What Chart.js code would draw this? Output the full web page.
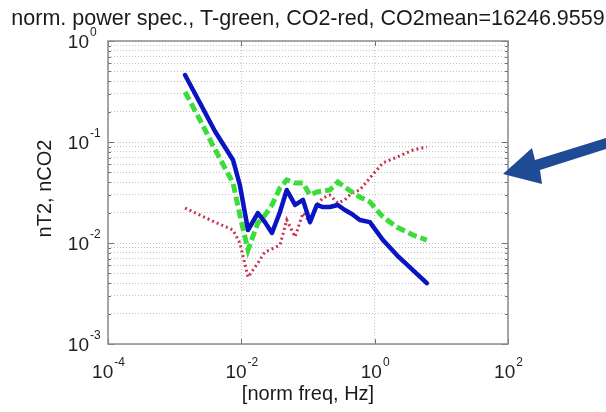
<!DOCTYPE html>
<html>
<head>
<meta charset="utf-8">
<script src="https://cdn.jsdelivr.net/npm/chart.js@4.4.1/dist/chart.umd.min.js"></script>
<style>
  html, body { margin: 0; padding: 0; background: #fff; }
  #wrap { width: 606px; height: 412px; }
</style>
</head>
<body>
<div id="wrap"><canvas id="spec" width="606" height="412"></canvas></div>
<script>
// normalised power spectra
const freq = [0.00143, 0.0024, 0.004, 0.0075, 0.0095, 0.0126, 0.0177, 0.0226, 0.0288, 0.038,
  0.048, 0.064, 0.084, 0.107, 0.136, 0.167, 0.213, 0.28, 0.357, 0.455,
  0.6, 0.847, 1.33, 2.15, 3.74, 6.06];

const blueVals = [0.46, 0.243, 0.1285, 0.0664, 0.0375, 0.01345, 0.0198, 0.0161, 0.01256, 0.0203,
  0.0335, 0.0238, 0.0267, 0.0161, 0.0238, 0.0227, 0.0227, 0.0238, 0.0212, 0.0194,
  0.0169, 0.0161, 0.0107, 0.0076, 0.0054, 0.0040];

const tempVals = [0.313, 0.165, 0.0852, 0.0393, 0.0189, 0.00853, 0.0158, 0.0189, 0.0238, 0.0351,
  0.0421, 0.0393, 0.0393, 0.0299, 0.032, 0.0327, 0.0335, 0.0402, 0.0358, 0.032,
  0.0285, 0.0255, 0.0181, 0.0144, 0.012, 0.0107];

const co2Vals = [0.0222, 0.0189, 0.0161, 0.01345, 0.0100, 0.0046, 0.00634, 0.00815, 0.00873, 0.00955,
  0.0169, 0.0115, 0.0198, 0.0161, 0.0238, 0.0279, 0.0298, 0.0249, 0.0267, 0.0313,
  0.0335, 0.044, 0.062, 0.071, 0.0833, 0.0892];

const titleText = 'norm. power spec., T-green, CO2-red, CO2mean=16246.9559';
const xLabel = '[norm freq, Hz]';
const yLabel = 'nT2, nCO2';

const xTickVals = [1e-4, 1e-2, 1, 1e2];
const xTickExp = ['-4', '-2', '0', '2'];
const yTickVals = [1e-3, 1e-2, 1e-1, 1];
const yTickExp = ['-3', '-2', '-1', '0'];

// minor grid rows 1..9 x 10^k
const yGridVals = [];
for (let k = -3; k < 0; k++) {
  for (let m = 1; m <= 9; m++) yGridVals.push(m * Math.pow(10, k));
}
yGridVals.push(1);

const FONT = "'Liberation Sans', Arial, Helvetica, sans-serif";

function pts(vals) {
  return freq.map((f, i) => ({ x: f, y: vals[i] }));
}

// draws 10^n the matlab way
function drawPow(ctx, exp, x, y, mode) {
  ctx.font = '19px ' + FONT;
  const wb = ctx.measureText('10').width;
  ctx.font = '12px ' + FONT;
  const we = ctx.measureText(exp).width;
  let start;
  if (mode === 'center') start = x - (wb + we) / 2;
  else start = x - wb;
  ctx.textAlign = 'left';
  ctx.textBaseline = 'alphabetic';
  ctx.font = '19px ' + FONT;
  ctx.fillText('10', start, y);
  ctx.font = '12px ' + FONT;
  ctx.fillText(exp, start + wb + 1, y - 12);
}

const decor = {
  id: 'decor',
  afterDraw(chart) {
    const ctx = chart.ctx;
    const a = chart.chartArea;
    const sx = chart.scales.x, sy = chart.scales.y;
    ctx.save();

    // tick marks
    ctx.strokeStyle = '#707070';
    ctx.lineWidth = 1;
    ctx.beginPath();
    xTickVals.forEach(v => {
      const px = Math.round(sx.getPixelForValue(v)) + 0.5;
      ctx.moveTo(px, a.bottom); ctx.lineTo(px, a.bottom - 5);
      ctx.moveTo(px, a.top); ctx.lineTo(px, a.top + 5);
    });
    yGridVals.forEach(v => {
      const py = Math.round(sy.getPixelForValue(v)) + 0.5;
      const len = yTickVals.includes(v) ? 6 : 3;
      ctx.moveTo(a.left, py); ctx.lineTo(a.left + len, py);
      ctx.moveTo(a.right, py); ctx.lineTo(a.right - len, py);
    });
    ctx.stroke();

    // axes box
    ctx.strokeStyle = '#8a8a8a';
    ctx.lineWidth = 1.5;
    ctx.strokeRect(a.left, a.top, a.right - a.left, a.bottom - a.top);

    // tick labels
    ctx.fillStyle = '#222';
    xTickVals.forEach((v, i) => {
      drawPow(ctx, xTickExp[i], sx.getPixelForValue(v), a.bottom + 34, 'center');
    });
    yTickVals.forEach((v, i) => {
      drawPow(ctx, yTickExp[i], 89, sy.getPixelForValue(v) + 7, 'right');
    });

    // title and axis labels
    ctx.fillStyle = '#1a1a1a';
    ctx.font = '21.5px ' + FONT;
    ctx.textAlign = 'center';
    ctx.textBaseline = 'alphabetic';
    ctx.fillText(titleText, (a.left + a.right) / 2, 25);

    ctx.font = '20px ' + FONT;
    ctx.fillText(xLabel, (a.left + a.right) / 2, 400);

    ctx.save();
    ctx.translate(45, (a.top + a.bottom) / 2 - 4);
    ctx.rotate(-Math.PI / 2);
    ctx.textBaseline = 'middle';
    ctx.fillText(yLabel, 0, 0);
    ctx.restore();

    // the blue pointer arrow on the right
    ctx.fillStyle = '#1f4a94';
    ctx.beginPath();
    ctx.moveTo(503, 174);
    ctx.lineTo(532, 148);
    ctx.lineTo(535, 160);
    ctx.lineTo(606, 138);
    ctx.lineTo(606, 149);
    ctx.lineTo(540, 170);
    ctx.lineTo(542, 184);
    ctx.closePath();
    ctx.fill();

    ctx.restore();
  }
};

const gridStyle = { color: '#c4c4c4', lineWidth: 1, drawTicks: false };

new Chart(document.getElementById('spec'), {
  type: 'line',
  data: {
    datasets: [
      {
        label: 'CO2',
        data: pts(co2Vals),
        borderColor: '#c8324b',
        borderWidth: 3,
        borderDash: [2, 3],
        pointRadius: 0,
        fill: false,
        tension: 0,
        order: 3
      },
      {
        label: 'T',
        data: pts(tempVals),
        borderColor: '#3cdc3c',
        borderWidth: 5,
        borderDash: [9, 4],
        pointRadius: 0,
        fill: false,
        tension: 0,
        order: 2
      },
      {
        label: 'blue',
        data: pts(blueVals),
        borderColor: '#0a14c0',
        borderWidth: 4.5,
        borderJoinStyle: 'round',
        borderCapStyle: 'round',
        pointRadius: 0,
        fill: false,
        tension: 0,
        order: 1
      }
    ]
  },
  options: {
    responsive: false,
    animation: false,
    devicePixelRatio: 1,
    layout: { padding: { left: 108, top: 41, right: 98, bottom: 68 } },
    plugins: {
      legend: { display: false },
      tooltip: { enabled: false }
    },
    scales: {
      x: {
        type: 'logarithmic',
        min: 1e-4,
        max: 1e2,
        afterBuildTicks: (scale) => { scale.ticks = xTickVals.map(v => ({ value: v })); },
        ticks: { display: false },
        grid: gridStyle,
        border: { display: false, dash: [1, 2] }
      },
      y: {
        type: 'logarithmic',
        min: 1e-3,
        max: 1,
        afterBuildTicks: (scale) => { scale.ticks = yGridVals.map(v => ({ value: v })); },
        ticks: { display: false },
        grid: gridStyle,
        border: { display: false, dash: [1, 2] }
      }
    }
  },
  plugins: [decor]
});
</script>
</body>
</html>
